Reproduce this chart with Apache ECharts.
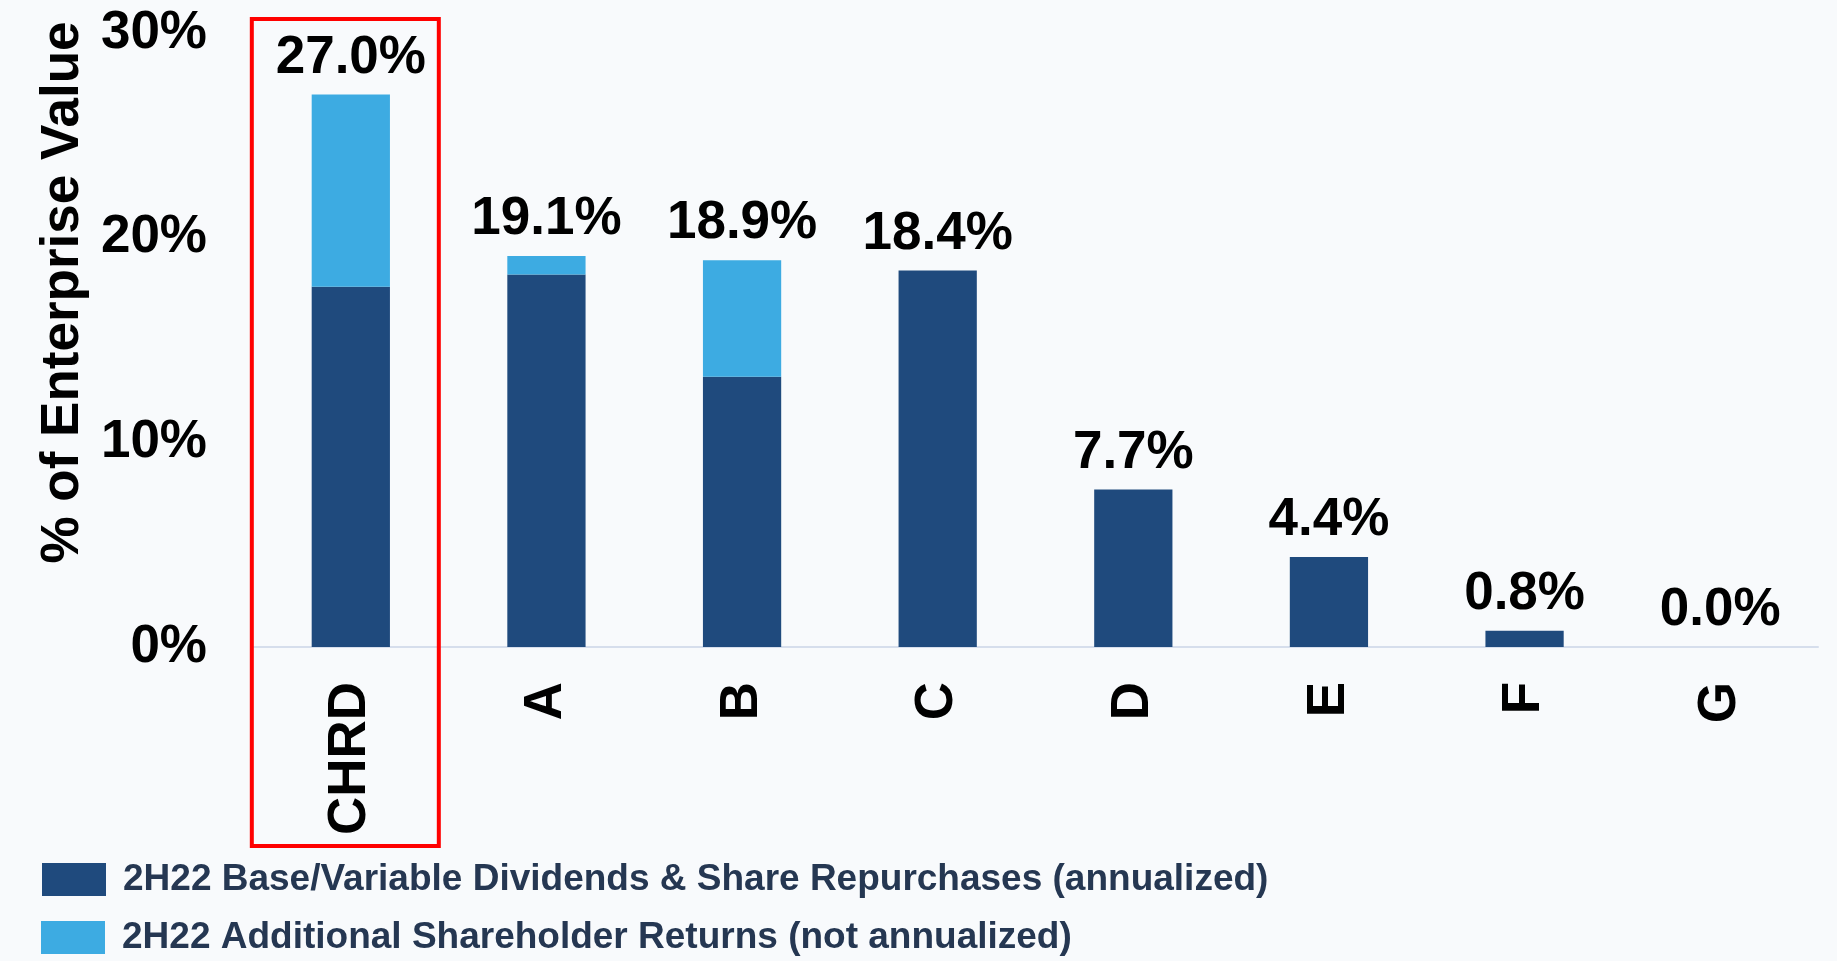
<!DOCTYPE html>
<html>
<head>
<meta charset="utf-8">
<script src="https://cdn.jsdelivr.net/npm/echarts@6/dist/echarts.min.js"></script>
<style>
html,body{margin:0;padding:0;background:#F8FAFC;}
#c{width:1837px;height:961px;}
</style>
</head>
<body>
<div id="c"></div>
<script>
const categories = ['CHRD', 'A', 'B', 'C', 'D', 'E', 'F', 'G'];
const baseReturns = [17.6, 18.2, 13.2, 18.4, 7.7, 4.4, 0.8, 0.0];
const additionalReturns = [9.4, 0.9, 5.7, 0.0, 0.0, 0.0, 0.0, 0.0];
const totalLabels = ['27.0%', '19.1%', '18.9%', '18.4%', '7.7%', '4.4%', '0.8%', '0.0%'];
const yTicks = [0, 10, 20, 30];
const seriesNames = ['2H22 Base/Variable Dividends & Share Repurchases (annualized)', '2H22 Additional Shareholder Returns (not annualized)'];

const FONT = 'Liberation Sans, Arial, sans-serif';
const legendText = {fontFamily: FONT, fontSize: 37, fontWeight: 'bold', color: '#253752', padding: [0, 0, 0, 12]};
const chart = echarts.init(document.getElementById('c'), null, {renderer: 'canvas'});
const option = {
  backgroundColor: '#F8FAFC',
  animation: false,
  grid: {left: 253, right: 19, top: 33, bottom: 314, containLabel: false},
  legend: [
    {orient: 'vertical', left: 37, top: 856, itemWidth: 64, itemHeight: 33, icon: 'rect', textStyle: legendText, data: [seriesNames[0]]},
    {orient: 'vertical', left: 36, top: 914, itemWidth: 64, itemHeight: 33, icon: 'rect', textStyle: legendText, data: [seriesNames[1]]}
  ],
  xAxis: {
    type: 'category', data: categories,
    axisLine: {lineStyle: {color: '#D6DEEC', width: 2}},
    axisTick: {show: false},
    axisLabel: {rotate: 90, margin: 35, fontFamily: FONT, fontSize: 53, fontWeight: 'bold', color: '#000'}
  },
  yAxis: {
    type: 'value', min: 0, max: yTicks[yTicks.length - 1], interval: yTicks[1] - yTicks[0],
    axisLine: {show: false}, axisTick: {show: false}, splitLine: {show: false},
    axisLabel: {margin: 46, fontFamily: FONT, fontSize: 53, fontWeight: 'bold', color: '#000', formatter: '{value}%'},
    name: '% of Enterprise Value', nameLocation: 'middle', nameRotate: 90, nameGap: 162,
    nameTextStyle: {fontFamily: FONT, fontSize: 53, fontWeight: 'bold', color: '#000', padding: [0, 0, 0, 95]}
  },
  series: [
    {
      name: seriesNames[0], type: 'bar', stack: 'total', stackStrategy: 'all', barWidth: '40%',
      itemStyle: {color: '#1F4A7D'},
      data: baseReturns
    },
    {
      name: seriesNames[1], type: 'bar', stack: 'total', stackStrategy: 'all', barWidth: '40%',
      itemStyle: {color: '#3DABE2'},
      label: {
        show: true, position: 'top', distance: 10,
        fontFamily: FONT, fontSize: 53, fontWeight: 'bold', color: '#000',
        formatter: p => totalLabels[p.dataIndex]
      },
      data: additionalReturns
    }
  ]
};
chart.setOption(option);

const cx = chart.convertToPixel({xAxisIndex: 0}, categories[0]);
const yTop = chart.convertToPixel({yAxisIndex: 0}, yTicks[yTicks.length - 1]);
const y0 = chart.convertToPixel({yAxisIndex: 0}, 0);
chart.setOption({
  graphic: [{
    type: 'rect', z: 100,
    shape: {x: cx - 99, y: yTop - 14, width: 187, height: (y0 + 199) - (yTop - 14)},
    style: {fill: 'none', stroke: '#FF0000', lineWidth: 4}
  }]
});
</script>
</body>
</html>
